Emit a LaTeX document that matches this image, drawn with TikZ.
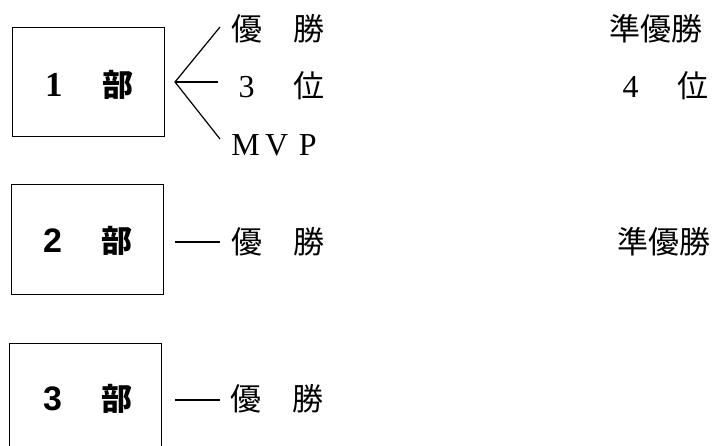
\documentclass[tikz,border=0pt]{standalone}
\usepackage{fontspec}
\newfontfamily\cjk{Noto Sans CJK JP}
\newfontfamily\ser{Liberation Serif}
\newfontfamily\sanb{Liberation Sans}
\newcommand\fw[1]{\makebox[31pt]{#1}}
\begin{document}
\begin{tikzpicture}[x=1pt,y=-1pt,
  bu/.style={draw, line width=1.4pt, minimum width=152pt, anchor=north west, inner sep=0pt},
  bl/.style={inner sep=0pt, font=\fontsize{31}{31}\selectfont\bfseries},
  lab/.style={anchor=west, inner sep=0pt, font=\fontsize{31}{31}\selectfont\cjk},
  lat/.style={font=\fontsize{32}{32}\selectfont\ser},
  conn/.style={line width=1.2pt}]
\useasboundingbox (0,0) rectangle (712,446);
% boxes
\node[bu, minimum height=109pt] (b1) at (12,27) {};
\node[bu, minimum height=110pt] (b2) at (11,184) {};
\node[bu, minimum height=114pt] (b3) at (9,343) {};
\node[bl, anchor=west] (b1t) at (45,85) {{\fontsize{35}{35}\selectfont\ser\bfseries 1}\hspace{40pt}{\cjk 部}};
\node[bl, anchor=west] (b2t) at (43,241) {{\fontsize{34}{34}\selectfont\sanb\bfseries 2}\hspace{39pt}{\cjk 部}};
\node[bl, anchor=west] (b3t) at (43,399) {{\fontsize{34}{34}\selectfont\sanb\bfseries 3}\hspace{39pt}{\cjk 部}};
% 1部 labels
\node[lab] (a1) at (231,29) {優\hspace{31pt}勝};
\node[lab] (a2) at (231,86) {{\fontsize{32}{32}\selectfont\ser\fw{3}}\hspace{31pt}位};
\node[lab, lat] (a3) at (230,145) {\fw{M}\fw{V}\fw{P}};
\node[lab] (r1) at (609,29) {準優勝};
\node[lab] (r2) at (615,86) {{\fontsize{32}{32}\selectfont\ser\fw{4}}\hspace{31pt}位};
% 2部 labels
\node[lab] (c1) at (231,242) {優\hspace{31pt}勝};
\node[lab] (c2) at (617,242) {準優勝};
% 3部 labels
\node[lab] (d1) at (230,399) {優\hspace{31pt}勝};
% connectors
\coordinate (f) at (175,82);
\coordinate (e1) at (220,27);
\coordinate (e2) at (218,82);
\coordinate (e3) at (220,139);
\draw[conn] (e1) -- (f) -- (e3);
\draw[conn] (f) -- (e2);
\coordinate (g1) at (175,242);
\coordinate (g2) at (220,242);
\draw[conn] (g1) -- (g2);
\coordinate (h1) at (175,400);
\coordinate (h2) at (220,400);
\draw[conn] (h1) -- (h2);
\end{tikzpicture}
\end{document}
